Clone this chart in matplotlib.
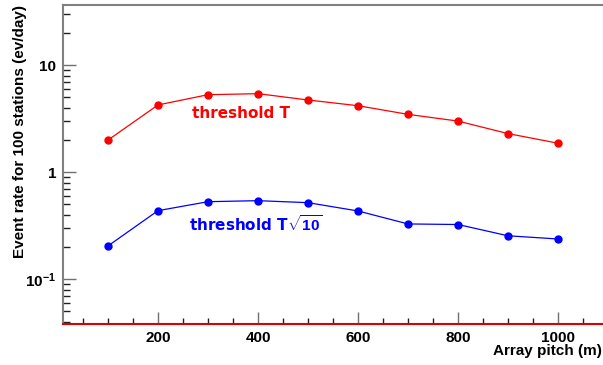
import numpy as np
import matplotlib
matplotlib.use('Agg')
from matplotlib import pyplot as plt
from matplotlib.ticker import FixedLocator, MultipleLocator, LogLocator, NullFormatter

pitch = [100, 200, 300, 400, 500, 600, 700, 800, 900, 1000]
rate_T = [2.0, 4.26, 5.31, 5.43, 4.74, 4.19, 3.48, 3.01, 2.30, 1.87]
rate_T10 = [0.205, 0.438, 0.531, 0.543, 0.52, 0.435, 0.329, 0.325, 0.255, 0.238]
ytick_vals = [0.1, 1, 10]
ytick_labels = [r'$\mathbf{10^{-1}}$', '1', '10']

plt.rcParams['font.family'] = ['Liberation Sans', 'DejaVu Sans']
plt.rcParams['mathtext.fontset'] = 'custom'
plt.rcParams['mathtext.rm'] = 'Liberation Sans'
plt.rcParams['mathtext.bf'] = 'Liberation Sans:bold'
plt.rcParams['mathtext.it'] = 'Liberation Sans:italic'

fig = plt.figure(figsize=(6.03, 3.65), dpi=100)
ax = fig.add_axes([63/603, 41/365, 540/603, 319/365])

ax.plot(pitch, rate_T, '-o', color='#ff0000', lw=0.9, ms=5, mec='#ff0000')
ax.plot(pitch, rate_T10, '-o', color='#0000ff', lw=0.9, ms=5, mec='#0000ff')

ax.set_yscale('log')
ax.set_xlim(10, 1090)
ax.set_ylim(0.0382, 36.6)

ax.text(268, 3.58, 'threshold T', color='#ff0000', fontsize=11, fontweight='bold',
        family='DejaVu Sans', va='center', ha='left')
ax.text(262, 0.329, r'threshold T$\mathbf{\sqrt{10}}$', color='#0000ff', fontsize=11,
        fontweight='bold', family='DejaVu Sans', va='center', ha='left')

ax.xaxis.set_major_locator(FixedLocator([200, 400, 600, 800, 1000]))
ax.xaxis.set_minor_locator(MultipleLocator(50))
ax.yaxis.set_major_locator(FixedLocator(ytick_vals))
ax.yaxis.set_minor_locator(LogLocator(base=10, subs=np.arange(2, 10)))
ax.yaxis.set_minor_formatter(NullFormatter())
ax.set_yticklabels(ytick_labels)

ax.tick_params(axis='both', which='both', direction='in', labelsize=11, colors='black')
ax.tick_params(axis='x', which='major', length=9, width=1, color='#707070', pad=5)
ax.tick_params(axis='x', which='minor', length=4, width=1, color='#202020')
ax.tick_params(axis='y', which='major', length=9, width=1, color='#707070', pad=5)
ax.tick_params(axis='y', which='minor', length=5, width=1, color='#202020')
ax.tick_params(top=False, right=False, which='both')
for lab in ax.get_xticklabels() + ax.get_yticklabels():
    lab.set_fontweight('bold')

for s in ['left', 'top']:
    ax.spines[s].set_color('#808080')
    ax.spines[s].set_linewidth(1.5)
ax.spines['bottom'].set_color('#dd0000')
ax.spines['bottom'].set_linewidth(1.5)
ax.spines['right'].set_visible(False)

fig.text(602/603, 1 - 351/365, 'Array pitch (m)', ha='right', va='center',
         fontsize=11, fontweight='bold')
fig.text(20/603, 1 - 131/365, 'Event rate for 100 stations (ev/day)', ha='center',
         va='center', rotation=90, fontsize=11, fontweight='bold')

fig.savefig('out.png', dpi=100)
